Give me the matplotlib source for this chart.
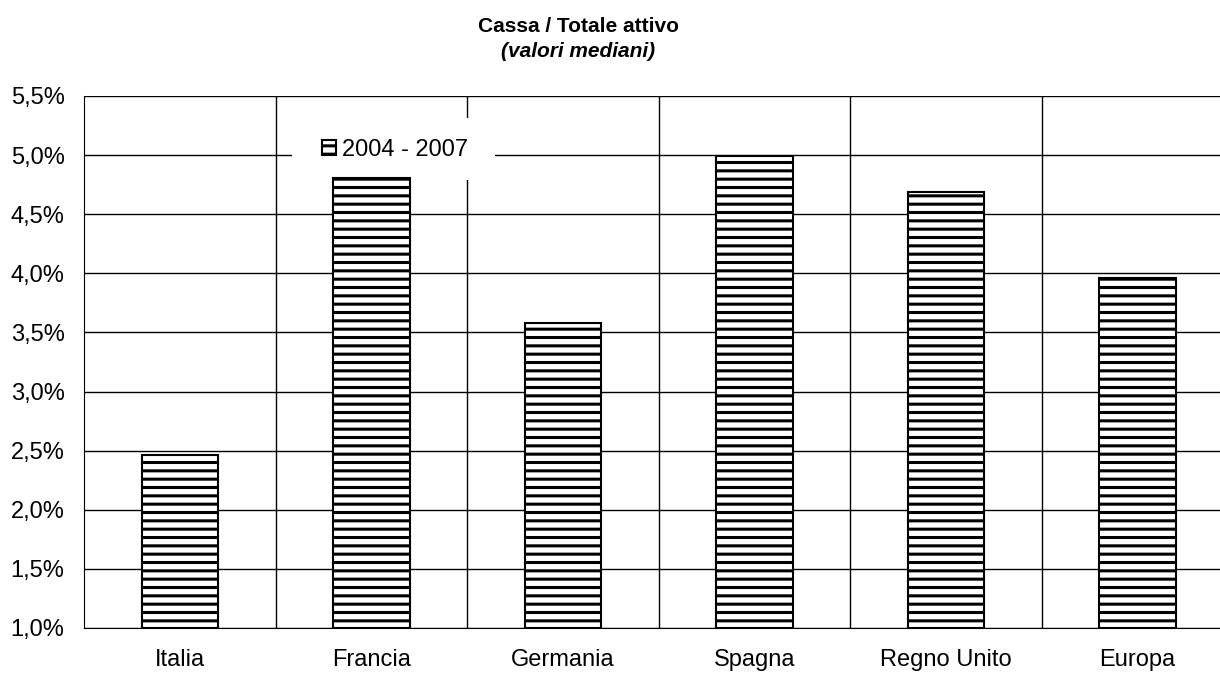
import matplotlib.pyplot as plt
import matplotlib as mpl
from matplotlib.patches import Rectangle
from matplotlib.ticker import FuncFormatter

plt.rcParams['font.family'] = ['Liberation Sans', 'DejaVu Sans']
mpl.rcParams['hatch.linewidth'] = 2.2

# dati (valori mediani, %)
paesi = ['Italia', 'Francia', 'Germania', 'Spagna', 'Regno Unito', 'Europa']
valori = [2.46, 4.81, 3.58, 4.99, 4.69, 3.96]
serie = '2004 - 2007'

fig = plt.figure(figsize=(12.2, 6.73), dpi=100)
ax = fig.add_axes([0.0689, 0.0669, 0.9418, 0.7905])

x = list(range(len(paesi)))
ax.bar(x, [v - 1.0 for v in valori], bottom=1.0, width=0.4, color='white',
       edgecolor='black', hatch='--', linewidth=1.5, label=serie, zorder=3)

ax.set_xlim(-0.5, len(paesi) - 0.5)
ax.set_ylim(1.0, 5.5)
ax.set_yticks([1.0 + 0.5 * i for i in range(10)])
ax.yaxis.set_major_formatter(FuncFormatter(lambda v, p: f'{v:.1f}%'.replace('.', ',')))
ax.set_xticks(x)
ax.set_xticklabels(paesi)

# griglia orizzontale e separatori verticali
ax.grid(axis='y', color='black', linewidth=1.0, zorder=0)
for b in range(len(paesi)):
    ax.axvline(b + 0.5, color='black', linewidth=1.0, zorder=0)

for s in ['top', 'right']:
    ax.spines[s].set_visible(False)
ax.tick_params(axis='both', length=0, labelsize=17)
ax.tick_params(axis='y', pad=14)
ax.tick_params(axis='x', pad=15)

fig.text(0.474, 0.960, 'Cassa / Totale attivo', ha='center', va='center',
         fontsize=15, fontweight='bold')
fig.text(0.474, 0.924, '(valori mediani)', ha='center', va='center',
         fontsize=15, fontweight='bold', fontstyle='italic')

# sfondo bianco della legenda
ax.add_patch(Rectangle((292 / 1220, 1 - 180 / 673), 203 / 1220, 62 / 673,
                       transform=fig.transFigure, facecolor='white',
                       edgecolor='none', zorder=2))
leg = ax.legend(loc='center', bbox_to_anchor=(0.324, 0.777), bbox_transform=fig.transFigure,
                fontsize=17, frameon=False, handlelength=0.6, handleheight=0.6,
                handletextpad=0.25, borderpad=0, borderaxespad=0)
leg.set_zorder(5)

plt.savefig('out.png', dpi=100)
